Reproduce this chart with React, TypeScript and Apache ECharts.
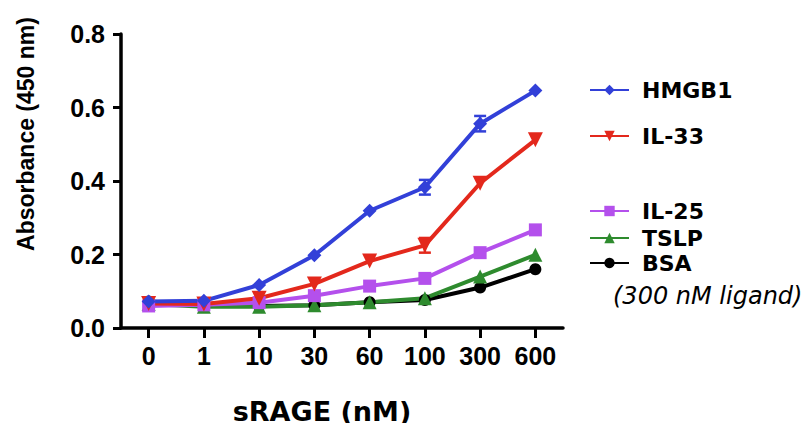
import React, { useEffect, useRef } from "react";
import * as echarts from "echarts";

const categories = ["0", "1", "10", "30", "60", "100", "300", "600"];
const yTicks = [0, 0.2, 0.4, 0.6, 0.8];

const hmgb1 = [0.072, 0.074, 0.117, 0.198, 0.319, 0.383, 0.556, 0.646];
const il33 = [0.067, 0.065, 0.081, 0.12, 0.182, 0.225, 0.394, 0.512];
const il25 = [0.06, 0.063, 0.069, 0.088, 0.114, 0.135, 0.205, 0.267];
const tslp = [0.065, 0.058, 0.058, 0.062, 0.07, 0.081, 0.14, 0.199];
const bsa = [0.072, 0.063, 0.06, 0.062, 0.07, 0.076, 0.11, 0.16];

// error bars: [category index, mean, +/- error]
const hmgb1Err = [
  [5, 0.383, 0.02],
  [6, 0.556, 0.021],
];
const il33Err = [[5, 0.225, 0.02]];

const seriesNames = ["HMGB1", "IL-33", "IL-25", "TSLP", "BSA"];
const legendCenters = [90, 136, 211, 238, 263];

export default function App() {
  const ref = useRef<HTMLDivElement>(null);
  useEffect(() => {
    if (!ref.current) return;
    const chart = echarts.init(ref.current, null, { renderer: "svg" });
    const colors: Record<string, string> = {
      HMGB1: "#3240d8",
      "IL-33": "#e3281c",
      "IL-25": "#b450ec",
      TSLP: "#2e8b2e",
      BSA: "#000000",
    };
    const lineSeries = (name: string, data: number[], symbol: string, size: number, rotate = 0) => ({
      type: "line",
      name,
      data,
      symbol,
      symbolSize: size,
      symbolRotate: rotate,
      showSymbol: true,
      lineStyle: { width: 4, color: colors[name] },
      itemStyle: { color: colors[name] },
    });
    const errSeries = (name: string, data: number[][]) => ({
      type: "custom",
      name: name + "-err",
      data,
      z: 5,
      renderItem: (params: any, api: any) => {
        const idx = api.value(0);
        const m = api.value(1);
        const e = api.value(2);
        const top = api.coord([idx, m + e]);
        const bot = api.coord([idx, m - e]);
        const hw = 6;
        const st = { stroke: colors[name], lineWidth: 2.5 };
        return {
          type: "group",
          children: [
            { type: "line", shape: { x1: top[0], y1: top[1], x2: bot[0], y2: bot[1] }, style: st },
            { type: "line", shape: { x1: top[0] - hw, y1: top[1], x2: top[0] + hw, y2: top[1] }, style: st },
            { type: "line", shape: { x1: bot[0] - hw, y1: bot[1], x2: bot[0] + hw, y2: bot[1] }, style: st },
          ],
        };
      },
    });

    const option: any = {
      animation: false,
      backgroundColor: "#ffffff",
      grid: { left: 121, right: 246, top: 34, bottom: 103, containLabel: false },
      xAxis: {
        type: "category",
        data: categories,
        boundaryGap: true,
        axisLine: { show: true, lineStyle: { color: "#000", width: 3.5 } },
        axisTick: { show: true, alignWithLabel: true, length: 10, lineStyle: { color: "#000", width: 3 } },
        axisLabel: {
          color: "#000",
          fontFamily: "Liberation Sans",
          fontWeight: "bold",
          fontSize: 25,
          margin: 15,
        },
        splitLine: { show: false },
      },
      yAxis: {
        type: "value",
        min: yTicks[0],
        max: yTicks[yTicks.length - 1],
        interval: 0.2,
        axisLine: { show: true, lineStyle: { color: "#000", width: 3.5 } },
        axisTick: { show: true, length: 8, lineStyle: { color: "#000", width: 3 } },
        axisLabel: {
          color: "#000",
          fontFamily: "Liberation Sans",
          fontWeight: "bold",
          fontSize: 25,
          margin: 16,
          formatter: (v: number) => v.toFixed(1),
        },
        splitLine: { show: false },
      },
      legend: seriesNames.map((n, i) => ({
        data: [n],
        left: 589,
        top: legendCenters[i] - 11,
        padding: 0,
        itemWidth: 39,
        itemHeight: 13,
        selectedMode: false,
        textStyle: {
          color: "#000",
          fontFamily: "DejaVu Sans",
          fontWeight: "bold",
          fontSize: 22,
          lineHeight: 22,
          padding: [0, 0, 0, 8],
        },
      })),
      graphic: [
        {
          type: "text",
          x: 26,
          y: 134,
          rotation: Math.PI / 2,
          style: {
            text: "Absorbance (450 nm)",
            font: 'bold 23px "Liberation Sans"',
            fill: "#000",
            align: "center",
            verticalAlign: "middle",
          },
        },
        {
          type: "text",
          x: 322,
          y: 411,
          style: {
            text: "sRAGE (nM)",
            font: 'bold 27px "DejaVu Sans"',
            fill: "#000",
            align: "center",
            verticalAlign: "middle",
          },
        },
        {
          type: "text",
          x: 613,
          y: 296,
          style: {
            text: "(300 nM ligand)",
            font: 'italic 24px "DejaVu Sans"',
            fill: "#000",
            align: "left",
            verticalAlign: "middle",
          },
        },
      ],
      series: [
        lineSeries("BSA", bsa, "circle", 12),
        lineSeries("TSLP", tslp, "triangle", 14),
        lineSeries("IL-25", il25, "rect", 13),
        lineSeries("IL-33", il33, "triangle", 15, 180),
        lineSeries("HMGB1", hmgb1, "diamond", 14),
        errSeries("IL-33", il33Err),
        errSeries("HMGB1", hmgb1Err),
      ],
    };
    chart.setOption(option);
    return () => chart.dispose();
  }, []);
  return <div ref={ref} style={{ width: 809, height: 431, margin: -8 }} />;
}
